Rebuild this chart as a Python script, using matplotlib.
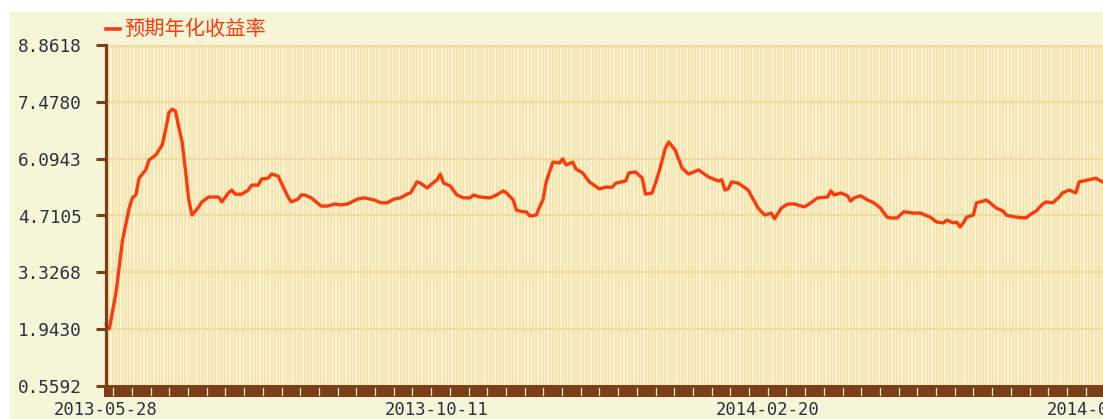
import matplotlib
matplotlib.use("Agg")
import matplotlib.pyplot as plt
import matplotlib.transforms as mtransforms
from matplotlib.patches import Rectangle
from matplotlib.lines import Line2D
import numpy as np

# ---- data ----
point_index = [0, 1, 3, 5, 7, 8, 9, 10, 12, 13, 15, 17, 18, 19, 20, 21, 22, 23, 24, 25,
               26, 28, 29, 31, 32, 34, 35, 37, 38, 39, 41, 43, 44, 46, 47, 49, 50, 52, 53, 55,
               56, 58, 59, 60, 62, 65, 67, 69, 71, 73, 76, 78, 81, 83, 85, 87, 89, 91, 92, 94,
               95, 97, 98, 100, 101, 102, 104, 106, 108, 110, 111, 113, 116, 118, 120, 121, 123, 124, 126, 127,
               128, 130, 131, 132, 133, 135, 137, 138, 139, 141, 142, 144, 146, 149, 151, 153, 154, 157, 158, 160,
               162, 163, 165, 167, 169, 170, 172, 174, 176, 177, 179, 182, 185, 186, 187, 188, 189, 191, 194, 197,
               199, 201, 202, 204, 206, 208, 211, 213, 215, 218, 219, 220, 222, 224, 225, 226, 228, 230, 232, 234,
               236, 237, 239, 241, 244, 246, 249, 251, 253, 254, 256, 257, 258, 259, 260, 262, 263, 265, 266, 269,
               271, 272, 275, 278, 279, 281, 283, 284, 286, 288, 289, 291, 293, 294, 297, 299, 301]
yield_rate = [2.07, 1.95, 2.82, 4.11, 4.89, 5.14, 5.21, 5.62, 5.82, 6.06, 6.18, 6.43, 6.79, 7.21, 7.30, 7.25, 6.85, 6.50, 5.82, 5.09,
              4.72, 4.92, 5.04, 5.16, 5.16, 5.16, 5.04, 5.26, 5.33, 5.23, 5.23, 5.33, 5.45, 5.45, 5.60, 5.62, 5.72, 5.67, 5.50, 5.16,
              5.04, 5.11, 5.21, 5.21, 5.14, 4.94, 4.94, 4.99, 4.97, 4.99, 5.11, 5.14, 5.09, 5.02, 5.02, 5.11, 5.14, 5.23, 5.26, 5.53,
              5.50, 5.38, 5.45, 5.58, 5.72, 5.50, 5.43, 5.21, 5.14, 5.14, 5.21, 5.16, 5.14, 5.21, 5.31, 5.26, 5.09, 4.84, 4.80, 4.80,
              4.70, 4.72, 4.92, 5.09, 5.53, 6.01, 5.99, 6.09, 5.94, 6.01, 5.84, 5.75, 5.53, 5.36, 5.40, 5.40, 5.50, 5.55, 5.75, 5.77,
              5.62, 5.23, 5.26, 5.75, 6.35, 6.50, 6.30, 5.87, 5.72, 5.75, 5.82, 5.65, 5.55, 5.58, 5.33, 5.36, 5.53, 5.50, 5.33, 4.89,
              4.72, 4.77, 4.63, 4.89, 4.99, 4.99, 4.92, 5.02, 5.14, 5.16, 5.31, 5.21, 5.26, 5.19, 5.06, 5.14, 5.19, 5.09, 5.02, 4.89,
              4.67, 4.65, 4.65, 4.80, 4.77, 4.77, 4.67, 4.55, 4.53, 4.60, 4.53, 4.55, 4.43, 4.53, 4.67, 4.72, 5.02, 5.06, 5.09, 4.89,
              4.82, 4.72, 4.67, 4.65, 4.72, 4.82, 4.99, 5.04, 5.02, 5.16, 5.26, 5.33, 5.26, 5.53, 5.58, 5.62, 5.53]
y_ticks = [0.5592, 1.9430, 3.3268, 4.7105, 6.0943, 7.4780, 8.8618]
y_tick_labels = ["0.5592", "1.9430", "3.3268", "4.7105", "6.0943", "7.4780", "8.8618"]
x_tick_index = [0, 100, 200, 300]
x_tick_labels = ["2013-05-28", "2013-10-11", "2014-02-20", "2014-07-03"]
series_name = "预期年化收益率"

# ---- style ----
W, H = 1103, 419
BROWN = "#7a3f17"
RED = "#ff3a0c"
OUTER = "#f7f5d8"
PLOTBG = "#fbf4d0"
STRIPE = "#f2e0a8"
HGRID = "#f2dca2"
TXT = "#2e3040"

fig = plt.figure(figsize=(W / 100, H / 100), dpi=100)
fig.patch.set_facecolor("white")
fig.patches.append(Rectangle((10 / W, 0), 1, (H - 12) / H, transform=fig.transFigure,
                             facecolor=OUTER, edgecolor="none", zorder=-10))

left_px, right_px, top_px, bottom_px = 106, 1103, 45, 386
ax = fig.add_axes([left_px / W, (H - bottom_px) / H, (right_px - left_px) / W, (bottom_px - top_px) / H])
ax.set_facecolor(PLOTBG)

px_per_idx = 3.31
xmax = (right_px - left_px) / px_per_idx
ax.set_xlim(0, xmax)
ax.set_ylim(y_ticks[0], y_ticks[-1])

# vertical stripes
ax.vlines(np.arange(1, int(xmax) + 1), y_ticks[0], y_ticks[-1], colors=STRIPE, linewidth=1.1, zorder=0)
# horizontal grid
for yv in y_ticks[1:-1]:
    ax.axhline(yv, color=HGRID, linewidth=1.6, zorder=1)
ax.axhline(y_ticks[-1], color=HGRID, linewidth=2.5, zorder=1)

ax.plot(point_index, yield_rate, color=RED, linewidth=2.4, solid_joinstyle="round",
        solid_capstyle="round", zorder=5, clip_on=False)

# spines
for s in ["top", "right", "bottom"]:
    ax.spines[s].set_visible(False)
ax.spines["left"].set_color(BROWN)
ax.spines["left"].set_linewidth(2.3)
ax.spines["left"].set_zorder(6)

ax.set_yticks(y_ticks)
ax.set_yticklabels(y_tick_labels, family="DejaVu Sans Mono", fontsize=12.8, color=TXT)
ax.tick_params(axis="y", length=7.5, width=2.2, color=BROWN, pad=10)

ax.set_xticks(x_tick_index)
ax.set_xticklabels(x_tick_labels, family="DejaVu Sans Mono", fontsize=12.4, color=TXT)
ax.tick_params(axis="x", length=0, pad=10.5)

# bottom brown band with light notches
fig.patches.append(Rectangle((left_px / W - 0.0014, (H - 397) / H), 1.0, (397 - 385) / H,
                             transform=fig.transFigure, facecolor=BROWN, edgecolor="none", zorder=3))
nt = mtransforms.blended_transform_factory(ax.transData, fig.transFigure)
notch_x = np.arange(2.2, xmax + 6, 18.7 / px_per_idx)
for nx in notch_x:
    fig.lines.append(Line2D([nx, nx], [(H - 387.5) / H, (H - 394.5) / H], transform=nt,
                            color="#f3ead0", linewidth=0.9, zorder=4))

# legend
fig.lines.append(Line2D([106 / W, 120 / W], [(H - 29.5) / H, (H - 29.5) / H],
                        transform=fig.transFigure, color=RED, linewidth=2.6))
fig.text(124 / W, (H - 29) / H, series_name, color=RED, fontsize=14.6, va="center", ha="left",
         family=["Noto Sans CJK SC", "DejaVu Sans"])

fig.savefig("out.png", dpi=100, facecolor=fig.get_facecolor())
